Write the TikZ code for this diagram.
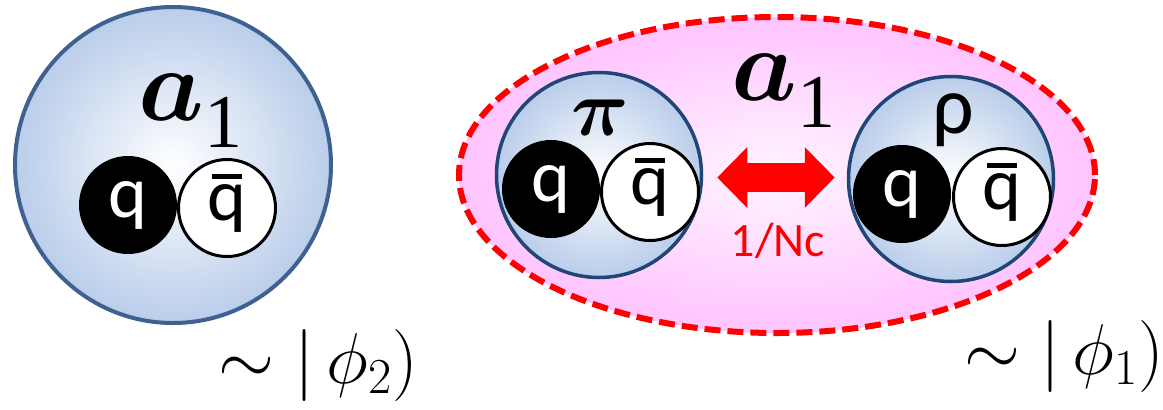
\RequirePackage{fix-cm}
\documentclass[tikz,border=0pt]{standalone}
\usepackage{fontspec}
\setmainfont{Liberation Serif}
\newfontfamily\carlito{Carlito}
\newfontfamily\timesf{Liberation Serif}
\usetikzlibrary{arrows.meta,positioning,shapes.geometric}
\definecolor{mesfill}{HTML}{BACDEA}
\definecolor{mesline}{HTML}{3E6191}
\definecolor{mesdark}{HTML}{1F4677}
\definecolor{mixpink}{HTML}{FFC4FF}
\definecolor{mixcore}{HTML}{FFF4FF}
\definecolor{mixred}{HTML}{FF0000}
\newcommand\barq{\rlap{\kern0.06em\raisebox{0.56em}[0pt][0pt]{\rule{0.41em}{0.06em}}}q}
\newcommand\aone{{\boldmath$a$}\raisebox{-13.5pt}{\timesf\fontsize{38pt}{38pt}\selectfont 1}}
\newcommand\bpi{\mbox{\boldmath$\pi$}}
\tikzset{bigmeson/.style={circle,draw=mesline,line width=2pt,inner color=white,
 outer color=mesfill,minimum size=158pt,inner sep=0pt},
 meson/.style={circle,draw=mesdark,line width=1.75pt,inner color=white,
 outer color=mesfill,minimum size=102.5pt,inner sep=0pt},
 quark/.style={circle,fill=black,text=white,minimum size=49pt,inner sep=0pt,
 font=\carlito\fontsize{37pt}{37pt}\selectfont},
 antiquark/.style={circle,draw=black,fill=white,line width=1.5pt,minimum size=48.5pt,
 inner sep=0pt,font=\carlito\fontsize{37pt}{37pt}\selectfont},
 mixbox/.style={ellipse,draw=mixred,line width=3pt,dash pattern=on 8pt off 3.5pt,
 inner color=mixcore,outer color=mixpink,minimum width=318pt,minimum height=158pt},
 dblarrow/.style={{Triangle[length=15pt,width=29.5pt]}-{Triangle[length=15pt,width=29.5pt]},
 draw=mixred,line width=14.5pt,shorten <=7pt,shorten >=6pt},
 alabel/.style={anchor=base west,inner sep=0pt,font=\fontsize{52pt}{52pt}\selectfont},
 wflabel/.style={anchor=base west,inner sep=0pt,font=\fontsize{36pt}{36pt}\selectfont}}
\begin{document}
\begin{tikzpicture}[x=0.5pt,y=0.5pt]
\useasboundingbox (0,0) rectangle (1163,-409);
% single a1 meson
\node[bigmeson] (big) at (173,-165) {};
\node[quark] (q0) at (128,-205) {q};
\node[antiquark] (qb0) at (227,-208) {\barq};
\node[alabel] (a0) at (138,-120) {\aone};
\node[wflabel] (wf2) at (218,-383) {$\sim|\,\phi_2)$};
% a1 as pi-rho molecule
\node[mixbox] (mix) at (777,-175) {};
\node[meson] (pim) at (599,-175) {};
\node[meson] (rhom) at (951,-179) {};
\node[quark] (q1) at (551,-189) {q};
\node[antiquark] (qb1) at (650,-192) {\barq};
\node[quark] (q2) at (902,-194) {q};
\node[antiquark] (qb2) at (1002,-197) {\barq};
\node[inner sep=0pt,font=\fontsize{40pt}{40pt}\selectfont] (pil) at (600,-118) {\bpi};
\node[inner sep=0pt,font=\carlito\fontsize{41pt}{41pt}\selectfont] (rhol) at (953,-120) {ρ};
\node[alabel] (a1) at (731,-100) {\aone};
\coordinate (ax) at (776,-177.5);
\draw[dblarrow] (pim.east |- ax) -- (rhom.west |- ax);
\node[inner sep=0pt,text=mixred,font=\carlito\fontsize{24pt}{24pt}\selectfont] (nc) at (778,-241) {1/Nc};
\node[wflabel] (wf1) at (964,-374) {$\sim|\,\phi_1)$};
\end{tikzpicture}
\end{document}
